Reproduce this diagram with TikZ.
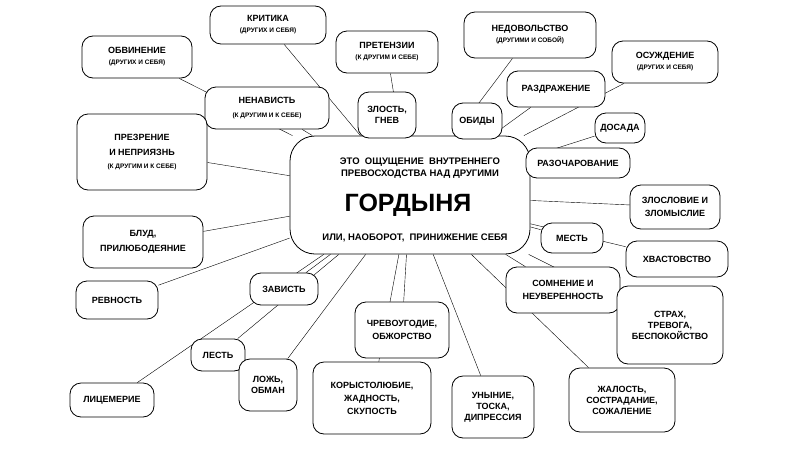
\documentclass[tikz,border=0pt]{standalone}
\usepackage{fontspec}
\setmainfont{Liberation Sans}
\usetikzlibrary{backgrounds}
\tikzset{
  blob/.style={draw, thick, fill=white, align=center, inner sep=1pt,
    font=\bfseries\fontsize{9}{11}\selectfont,
    rounded corners=11pt},
  link/.style={thin, black}
}
\newcommand{\sm}[1]{{\bfseries\fontsize{6.5}{8}\selectfont #1}}
\begin{document}
\begin{tikzpicture}[x=1pt,y=-1pt]
  \useasboundingbox (0,0) rectangle (800,450);
  % centre
  \node[blob, rounded corners=25pt, minimum width=240, minimum height=118] (core) at (410,195) {};
  \node[font=\bfseries\fontsize{9.5}{12}\selectfont, align=center] at (420,168)
    {ЭТО \ ОЩУЩЕНИЕ \ ВНУТРЕННЕГО\\ ПРЕВОСХОДСТВА НАД ДРУГИМИ};
  \node[font=\bfseries\fontsize{25}{27}\selectfont] at (408,205) {ГОРДЫНЯ};
  \node[font=\bfseries\fontsize{9.5}{12}\selectfont, align=left] at (415,238)
    {ИЛИ, НАОБОРОТ, \ ПРИНИЖЕНИЕ СЕБЯ};
  % around
  \node[blob, minimum width=110, minimum height=42] (blame) at (137,57) {ОБВИНЕНИЕ\\\sm{(ДРУГИХ И СЕБЯ)}};
  \node[blob, minimum width=116, minimum height=38] (critic) at (268,25) {КРИТИКА\\\sm{(ДРУГИХ И СЕБЯ)}};
  \node[blob, minimum width=102, minimum height=42] (claim) at (387,52) {ПРЕТЕНЗИИ\\\sm{(К ДРУГИМ И СЕБЕ)}};
  \node[blob, minimum width=132, minimum height=46] (discont) at (530,35) {НЕДОВОЛЬСТВО\\\sm{(ДРУГИМИ И СОБОЙ)}};
  \node[blob, minimum width=106, minimum height=42] (judge) at (665,62) {ОСУЖДЕНИЕ\\\sm{(ДРУГИХ И СЕБЯ)}};
  \node[blob, minimum width=124, minimum height=42] (hate) at (267,108) {НЕНАВИСТЬ\\[3pt]\sm{(К ДРУГИМ И К СЕБЕ)}};
  \node[blob, minimum width=58, minimum height=46] (anger) at (387,115) {ЗЛОСТЬ,\\ГНЕВ};
  \node[blob, minimum width=50, minimum height=36] (offence) at (477,121) {ОБИДЫ};
  \node[blob, minimum width=98, minimum height=36] (irrit) at (556,89) {РАЗДРАЖЕНИЕ};
  \node[blob, minimum width=50, minimum height=30] (vex) at (620,128) {ДОСАДА};
  \node[blob, minimum width=104, minimum height=30] (disap) at (578,163) {РАЗОЧАРОВАНИЕ};
  \node[blob, minimum width=130, minimum height=76] (scorn) at (142,152) {ПРЕЗРЕНИЕ\\[4pt]И НЕПРИЯЗНЬ\\[2pt]\sm{(К ДРУГИМ И К СЕБЕ)}};
  \node[blob, minimum width=90, minimum height=44] (slander) at (675,207) {ЗЛОСЛОВИЕ И\\[2pt]ЗЛОМЫСЛИЕ};
  \node[blob, minimum width=120, minimum height=52] (lust) at (143,242) {БЛУД,\\[4pt]ПРИЛЮБОДЕЯНИЕ};
  \node[blob, minimum width=62, minimum height=30] (revenge) at (572,238) {МЕСТЬ};
  \node[blob, minimum width=102, minimum height=36] (boast) at (677,259) {ХВАСТОВСТВО};
  \node[blob, minimum width=82, minimum height=38] (jealous) at (117,300) {РЕВНОСТЬ};
  \node[blob, minimum width=68, minimum height=32] (envy) at (284,289) {ЗАВИСТЬ};
  \node[blob, minimum width=114, minimum height=46] (doubt) at (563,290) {СОМНЕНИЕ И\\[2pt]НЕУВЕРЕННОСТЬ};
  \node[blob, minimum width=94, minimum height=56] (glut) at (402,330) {ЧРЕВОУГОДИЕ,\\[2pt]ОБЖОРСТВО};
  \node[blob, minimum width=106, minimum height=78] (fear) at (670,325) {СТРАХ,\\ТРЕВОГА,\\БЕСПОКОЙСТВО};
  \node[blob, minimum width=54, minimum height=32] (flatter) at (218,355) {ЛЕСТЬ};
  \node[blob, minimum width=58, minimum height=52] (lie) at (268,385) {ЛОЖЬ,\\ОБМАН};
  \node[blob, minimum width=118, minimum height=72] (greed) at (372,398) {КОРЫСТОЛЮБИЕ,\\[2pt]ЖАДНОСТЬ,\\[2pt]СКУПОСТЬ};
  \node[blob, minimum width=82, minimum height=62] (gloom) at (493,407) {УНЫНИЕ,\\ТОСКА,\\ДИПРЕССИЯ};
  \node[blob, minimum width=106, minimum height=64] (pity) at (622,400) {ЖАЛОСТЬ,\\СОСТРАДАНИЕ,\\СОЖАЛЕНИЕ};
  \node[blob, minimum width=84, minimum height=34] (hypo) at (112,400) {ЛИЦЕМЕРИЕ};
  % links
  \begin{scope}[on background layer]
    \foreach \n in {blame,critic,claim,discont,judge,hate,anger,offence,irrit,vex,disap,scorn,slander,lust,revenge,boast,jealous,envy,doubt,glut,fear,flatter,lie,greed,gloom,pity,hypo}
      \draw[link] (core) -- (\n);
  \end{scope}
\end{tikzpicture}
\end{document}
